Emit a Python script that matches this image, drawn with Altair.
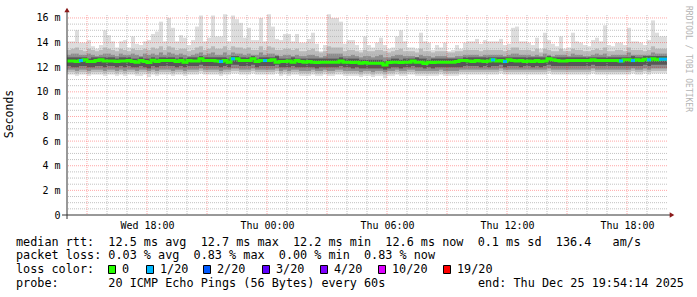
import altair as alt
import pandas as pd

# ---------------- data (12-minute bins, Wed 14:00 -> Thu 20:00) ----------------
median = [
    12.51, 12.51, 12.46, 12.54, 12.60, 12.46, 12.46, 12.54, 12.60, 12.51,
    12.51, 12.51, 12.46, 12.51, 12.51, 12.54, 12.46, 12.41, 12.54, 12.46,
    12.38, 12.57, 12.46, 12.54, 12.54, 12.54, 12.54, 12.46, 12.54, 12.41,
    12.54, 12.51, 12.51, 12.68, 12.54, 12.54, 12.54, 12.51,
    12.46, 12.54, 12.41, 12.68, 12.68, 12.54, 12.54, 12.54, 12.68, 12.46,
    12.54, 12.54, 12.54, 12.60, 12.41, 12.46, 12.46, 12.51, 12.41, 12.54,
    12.46, 12.41, 12.46, 12.41, 12.38, 12.41, 12.41, 12.41, 12.41, 12.41,
    12.51, 12.41, 12.41, 12.38, 12.41, 12.33, 12.38,
    12.33, 12.33, 12.33, 12.33, 12.19, 12.38, 12.41, 12.41, 12.38, 12.41,
    12.41, 12.51, 12.41, 12.41, 12.30, 12.41, 12.38, 12.41, 12.41, 12.41,
    12.41, 12.41, 12.46, 12.54, 12.54, 12.51, 12.46, 12.54, 12.51, 12.46,
    12.51, 12.60, 12.51, 12.54, 12.46, 12.60, 12.54, 12.51,
    12.54, 12.46, 12.51, 12.46, 12.54, 12.46, 12.51, 12.68, 12.60, 12.54,
    12.51, 12.51, 12.54, 12.54, 12.54, 12.54, 12.54, 12.54, 12.60, 12.54,
    12.54, 12.54, 12.54, 12.54, 12.54, 12.51, 12.60, 12.60, 12.54, 12.60,
    12.54, 12.65, 12.60, 12.68, 12.60, 12.65, 12.65,
]

ping_max = [
    14.1, 14.1, 15.0, 14.0, 14.0, 14.2, 13.7, 13.5, 13.8, 15.0,
    14.6, 14.1, 13.6, 14.1, 14.2, 13.6, 14.5, 13.9, 13.8, 14.1,
    14.2, 14.7, 14.9, 15.7, 14.1, 16.0, 15.2, 14.1, 14.6, 14.4,
    13.8, 14.2, 15.3, 16.2, 14.1, 14.4, 16.2, 14.5,
    14.5, 16.3, 14.1, 16.2, 15.9, 15.6, 14.4, 15.2, 14.2, 14.2,
    16.0, 14.1, 16.3, 15.3, 14.3, 14.2, 14.7, 14.7, 14.1, 14.7,
    14.0, 14.0, 14.3, 14.8, 13.9, 13.3, 13.8, 16.3, 16.0, 16.0,
    15.7, 13.9, 14.2, 14.2, 13.8, 13.4, 14.5,
    13.8, 13.6, 14.0, 14.4, 13.8, 13.5, 13.6, 14.5, 15.0, 14.1,
    13.6, 13.6, 13.5, 14.8, 14.1, 14.0, 13.4, 13.8, 13.6, 14.0,
    13.3, 13.4, 13.8, 13.5, 14.0, 14.1, 14.1, 14.3, 13.9, 14.2,
    14.1, 14.1, 14.1, 14.3, 13.8, 13.9, 15.2, 15.3,
    14.1, 14.1, 14.0, 13.8, 14.4, 13.5, 14.8, 14.2, 13.9, 13.7,
    14.5, 13.5, 13.6, 14.8, 14.1, 14.0, 13.8, 13.7, 14.2, 14.4,
    14.1, 15.4, 13.8, 13.7, 14.0, 14.0, 13.8, 15.2, 14.1, 14.1,
    14.0, 13.8, 14.2, 15.8, 14.8, 14.5, 14.5,
]

up_a = [
    13.4, 13.5, 13.6, 13.4, 13.3, 13.5, 13.4, 13.3, 13.4, 13.6, 13.5, 13.4, 13.3, 13.5, 13.4,
    13.3, 13.5, 13.4, 13.4, 13.5, 13.4, 13.6, 13.5, 13.7, 13.4, 13.7, 13.6, 13.4, 13.5, 13.5,
    13.3, 13.4, 13.6, 13.7, 13.4, 13.5, 13.7, 13.5, 13.5, 13.7, 13.4, 13.7, 13.6, 13.6, 13.5,
    13.6, 13.4, 13.4, 13.7, 13.4, 13.7, 13.6, 13.4, 13.4, 13.5, 13.5, 13.4, 13.5, 13.3, 13.3,
    13.4, 13.5, 13.3, 13.2, 13.3, 13.7, 13.6, 13.6, 13.6, 13.3, 13.4, 13.4, 13.3, 13.2, 13.4,
    13.3, 13.3, 13.4, 13.4, 13.3, 13.2, 13.3, 13.4, 13.5, 13.3, 13.3, 13.3, 13.2, 13.5, 13.3,
    13.3, 13.2, 13.3, 13.3, 13.3, 13.2, 13.2, 13.3, 13.3, 13.4, 13.4, 13.4, 13.4, 13.3, 13.4,
    13.4, 13.4, 13.4, 13.4, 13.3, 13.4, 13.6, 13.6, 13.4, 13.4, 13.4, 13.3, 13.5, 13.2, 13.5,
    13.4, 13.3, 13.3, 13.5, 13.3, 13.3, 13.5, 13.4, 13.4, 13.3, 13.3, 13.4, 13.5, 13.4, 13.6,
    13.3, 13.3, 13.4, 13.4, 13.3, 13.6, 13.4, 13.4, 13.4, 13.3, 13.4, 13.7, 13.5, 13.5, 13.5,
]

up_b = [
    13.0, 13.1, 13.1, 13.0, 13.0, 13.1, 13.0, 12.9, 13.0, 13.1, 13.1, 13.0, 12.9, 13.1, 13.0,
    13.0, 13.1, 13.0, 12.9, 13.1, 13.0, 13.1, 13.0, 13.2, 13.0, 13.2, 13.1, 13.0, 13.1, 13.0,
    12.9, 13.0, 13.1, 13.2, 13.0, 13.1, 13.2, 13.0, 13.0, 13.2, 13.0, 13.2, 13.1, 13.1, 13.0,
    13.1, 13.0, 13.0, 13.2, 13.0, 13.1, 13.1, 13.0, 12.9, 13.0, 13.0, 12.9, 13.0, 12.9, 12.9,
    13.0, 13.0, 12.9, 12.8, 12.9, 13.1, 13.1, 13.1, 13.1, 12.9, 12.9, 13.0, 12.9, 12.8, 12.9,
    12.9, 12.8, 12.9, 13.0, 12.8, 12.8, 12.9, 13.0, 13.0, 12.9, 12.9, 12.9, 12.8, 13.0, 12.9,
    12.9, 12.8, 12.9, 12.9, 12.9, 12.8, 12.8, 12.9, 12.9, 13.0, 13.0, 13.0, 13.0, 12.9, 13.0,
    13.0, 13.0, 13.0, 13.0, 12.9, 13.0, 13.1, 13.1, 13.0, 13.0, 13.0, 12.9, 13.0, 12.9, 13.1,
    13.0, 12.9, 13.0, 13.0, 13.0, 12.9, 13.1, 13.0, 13.0, 12.9, 12.9, 13.0, 13.1, 13.0, 13.1,
    12.9, 13.0, 13.0, 13.0, 13.0, 13.2, 13.0, 13.0, 13.0, 13.0, 13.0, 13.2, 13.1, 13.1, 13.1,
]

up_c = [
    12.8, 12.8, 12.8, 12.8, 12.8, 12.7, 12.8, 12.8, 12.8, 12.8, 12.8, 12.8, 12.7, 12.8, 12.8,
    12.8, 12.7, 12.7, 12.8, 12.7, 12.7, 12.8, 12.7, 12.8, 12.8, 12.8, 12.8, 12.7, 12.8, 12.7,
    12.8, 12.8, 12.8, 12.9, 12.8, 12.8, 12.8, 12.8, 12.8, 12.8, 12.7, 12.9, 12.9, 12.8, 12.8,
    12.8, 12.9, 12.7, 12.8, 12.8, 12.8, 12.8, 12.9, 12.7, 12.7, 12.7, 12.8, 12.7, 12.7, 12.7,
    12.7, 12.7, 12.7, 12.7, 12.7, 12.7, 12.7, 12.7, 12.8, 12.7, 12.7, 12.7, 12.7, 12.6, 12.6,
    12.6, 12.6, 12.6, 12.6, 12.5, 12.6, 12.7, 12.7, 12.6, 12.7, 12.7, 12.7, 12.8, 12.7, 12.7,
    12.6, 12.7, 12.7, 12.7, 12.7, 12.7, 12.7, 12.7, 12.7, 12.8, 12.8, 12.8, 12.8, 12.8, 12.8,
    12.8, 12.8, 12.8, 12.8, 12.8, 12.8, 12.8, 12.8, 12.8, 12.8, 12.8, 12.8, 12.8, 12.8, 12.8,
    12.9, 12.8, 12.8, 12.8, 12.8, 12.8, 12.8, 12.8, 12.8, 12.8, 12.8, 12.8, 12.8, 12.8, 12.8,
    12.8, 12.8, 12.8, 12.8, 12.8, 12.8, 12.9, 12.8, 12.8, 12.9, 12.9, 12.9, 12.9, 12.9, 12.9,
]

lo_c = [
    12.1, 12.0, 12.0, 12.1, 12.1, 12.0, 12.0, 12.1, 12.1, 12.0, 12.1, 12.1, 12.0, 12.1, 12.0,
    12.1, 12.0, 12.0, 12.1, 12.0, 11.9, 12.1, 12.0, 12.1, 12.1, 12.1, 12.1, 12.0, 12.1, 12.0,
    12.1, 12.1, 12.1, 12.2, 12.1, 12.1, 12.1, 12.1, 12.0, 12.1, 12.0, 12.2, 12.2, 12.1, 12.1,
    12.1, 12.2, 12.0, 12.1, 12.1, 12.1, 12.1, 12.2, 12.0, 12.0, 12.0, 12.1, 12.0, 12.0, 12.0,
    12.0, 12.0, 11.9, 12.0, 12.0, 12.0, 12.0, 12.0, 12.1, 12.0, 12.0, 11.9, 12.0, 11.9, 11.9,
    11.9, 11.9, 11.9, 11.9, 11.8, 11.9, 12.0, 12.0, 11.9, 12.0, 12.0, 12.1, 12.0, 12.0, 11.9,
    12.0, 11.9, 12.0, 12.0, 12.0, 12.0, 12.0, 12.0, 12.0, 12.1, 12.1, 12.1, 12.1, 12.0, 12.1,
    12.0, 12.1, 12.1, 12.2, 12.0, 12.1, 12.1, 12.1, 12.0, 12.1, 12.1, 12.0, 12.1, 12.0, 12.1,
    12.2, 12.1, 12.1, 12.1, 12.1, 12.1, 12.1, 12.1, 12.1, 12.1, 12.1, 12.2, 12.1, 12.1, 12.1,
    12.1, 12.1, 12.1, 12.1, 12.1, 12.1, 12.1, 12.1, 12.1, 12.2, 12.1, 12.2, 12.2, 12.2, 12.2,
]

lo_b = [
    11.8, 11.8, 11.7, 11.8, 11.8, 11.7, 11.8, 11.8, 11.8, 11.7, 11.8, 11.8, 11.7, 11.8, 11.7,
    11.8, 11.8, 11.7, 11.8, 11.8, 11.7, 11.8, 11.7, 11.8, 11.8, 11.8, 11.7, 11.8, 11.8, 11.7,
    11.8, 11.8, 11.8, 11.9, 11.8, 11.8, 11.8, 11.8, 11.7, 11.8, 11.8, 11.9, 11.9, 11.8, 11.8,
    11.8, 11.9, 11.8, 11.8, 11.8, 11.8, 11.8, 11.9, 11.7, 11.8, 11.7, 11.8, 11.8, 11.7, 11.7,
    11.7, 11.8, 11.7, 11.7, 11.8, 11.7, 11.7, 11.8, 11.8, 11.7, 11.7, 11.7, 11.7, 11.6, 11.7,
    11.7, 11.6, 11.7, 11.7, 11.6, 11.7, 11.7, 11.8, 11.7, 11.7, 11.8, 11.8, 11.7, 11.7, 11.7,
    11.7, 11.7, 11.7, 11.8, 11.7, 11.7, 11.7, 11.7, 11.8, 11.8, 11.8, 11.8, 11.8, 11.8, 11.8,
    11.8, 11.8, 11.8, 11.9, 11.8, 11.8, 11.8, 11.8, 11.8, 11.8, 11.8, 11.8, 11.8, 11.8, 11.8,
    11.9, 11.8, 11.8, 11.8, 11.8, 11.8, 11.8, 11.8, 11.8, 11.8, 11.8, 11.9, 11.8, 11.8, 11.8,
    11.8, 11.8, 11.8, 11.8, 11.8, 11.8, 11.9, 11.8, 11.8, 11.9, 11.8, 11.9, 11.9, 11.9, 11.9,
]

lo_a = [
    11.6, 11.6, 11.5, 11.6, 11.6, 11.5, 11.6, 11.6, 11.6, 11.5, 11.6, 11.6, 11.5, 11.6, 11.5,
    11.6, 11.6, 11.5, 11.6, 11.6, 11.5, 11.6, 11.5, 11.6, 11.6, 11.6, 11.5, 11.6, 11.6, 11.5,
    11.6, 11.6, 11.6, 11.7, 11.6, 11.6, 11.6, 11.6, 11.5, 11.6, 11.6, 11.7, 11.7, 11.6, 11.6,
    11.6, 11.7, 11.6, 11.6, 11.6, 11.6, 11.6, 11.7, 11.5, 11.6, 11.5, 11.6, 11.6, 11.5, 11.5,
    11.5, 11.6, 11.5, 11.5, 11.6, 11.5, 11.5, 11.6, 11.6, 11.5, 11.5, 11.5, 11.5, 11.4, 11.5,
    11.5, 11.4, 11.5, 11.5, 11.4, 11.5, 11.5, 11.6, 11.5, 11.5, 11.6, 11.6, 11.5, 11.5, 11.5,
    11.5, 11.5, 11.5, 11.6, 11.5, 11.5, 11.5, 11.5, 11.6, 11.6, 11.6, 11.6, 11.6, 11.6, 11.6,
    11.6, 11.6, 11.6, 11.7, 11.6, 11.6, 11.6, 11.6, 11.6, 11.6, 11.6, 11.6, 11.6, 11.6, 11.6,
    11.7, 11.6, 11.6, 11.6, 11.6, 11.6, 11.6, 11.6, 11.6, 11.6, 11.6, 11.7, 11.6, 11.6, 11.6,
    11.6, 11.6, 11.6, 11.6, 11.6, 11.6, 11.7, 11.6, 11.6, 11.7, 11.6, 11.7, 11.7, 11.7, 11.7,
]

ping_min = [
    11.4, 11.4, 11.3, 11.4, 11.4, 11.3, 11.4, 11.4, 11.4, 11.3, 11.4, 11.4, 11.3, 11.4, 11.3,
    11.4, 11.4, 11.3, 11.3, 11.4, 11.2, 11.4, 11.3, 11.4, 11.4, 11.4, 11.3, 11.4, 11.4, 11.3,
    11.4, 11.4, 11.4, 11.5, 11.4, 11.4, 11.4, 11.4, 11.3, 11.4, 11.4, 11.5, 11.5, 11.4, 11.4,
    11.4, 11.5, 11.4, 11.4, 11.4, 11.4, 11.4, 11.5, 11.3, 11.4, 11.3, 11.4, 11.4, 11.3, 11.3,
    11.3, 11.4, 11.3, 11.3, 11.4, 11.3, 11.3, 11.4, 11.4, 11.3, 11.3, 11.3, 11.3, 11.2, 11.3,
    11.3, 11.2, 11.3, 11.3, 11.1, 11.3, 11.3, 11.4, 11.3, 11.3, 11.4, 11.4, 11.3, 11.3, 11.3,
    11.3, 11.3, 11.3, 11.4, 11.3, 11.3, 11.3, 11.3, 11.4, 11.4, 11.4, 11.4, 11.4, 11.4, 11.4,
    11.4, 11.4, 11.4, 11.5, 11.4, 11.4, 11.4, 11.4, 11.4, 11.4, 11.4, 11.4, 11.4, 11.4, 11.4,
    11.5, 11.4, 11.4, 11.4, 11.4, 11.4, 11.4, 11.4, 11.4, 11.4, 11.4, 11.5, 11.4, 11.4, 11.4,
    11.4, 11.4, 11.4, 11.4, 11.4, 11.4, 11.5, 11.4, 11.4, 11.5, 11.4, 11.5, 11.5, 11.5, 11.5,
]

# bins with 1/20 packet loss
loss_bins = [3, 38, 41, 49, 106, 109, 138, 141, 145, 148, 149]

y_ticks = [0, 2, 4, 6, 8, 10, 12, 14, 16]
x_ticks = [18, 24, 30, 36, 42]
x_tick_labels = ["Wed 18:00", "Thu 00:00", "Thu 06:00", "Thu 12:00", "Thu 18:00"]

loss_labels = ["0", "1/20", "2/20", "3/20", "4/20", "10/20", "19/20"]
loss_colors = ["#26ff00", "#00b8ff", "#0059ff", "#5e00ff", "#7e00ff", "#dd00ff", "#ff0000"]

legend_line1 = "median rtt:  12.5 ms avg  12.7 ms max  12.2 ms min  12.6 ms now  0.1 ms sd  136.4   am/s"
legend_line2 = "packet loss: 0.03 % avg  0.83 % max  0.00 % min  0.83 % now"
legend_line3 = "loss color:"
legend_line4 = "probe:       20 ICMP Echo Pings (56 Bytes) every 60s"
legend_end = "end: Thu Dec 25 19:54:14 2025"
y_title = "Seconds"
watermark = "RRDTOOL / TOBI OETIKER"

# ---------------- layout / style ----------------
MONO = "DejaVu Sans Mono"
START_H = 14.0      # hours since Wed 00:00
SPAN_H = 30.0
STEP_H = 0.2        # 12 minutes
Y_TOP = 16.24
W, H = 600, 200

N = len(median)
df = pd.DataFrame({
    "t0": [START_H + STEP_H * i for i in range(N)],
    "t1": [START_H + STEP_H * (i + 1) for i in range(N)],
    "med": median, "pmax": ping_max, "pmin": ping_min,
    "up_a": up_a, "up_b": up_b, "up_c": up_c,
    "lo_a": lo_a, "lo_b": lo_b, "lo_c": lo_c,
})
df["up_a"] = df[["up_a", "pmax"]].min(axis=1)

line_df = pd.DataFrame({
    "t": list(df["t0"]) + [START_H + SPAN_H],
    "med": median + [median[-1]],
})
loss_df = df.iloc[loss_bins]

x_label_expr = " : ".join(
    f"datum.value == {v} ? '{lab}'" for v, lab in zip(x_ticks, x_tick_labels)
) + " : ''"

x_scale = alt.Scale(domain=[START_H, START_H + SPAN_H], nice=False, zero=False)
y_scale = alt.Scale(domain=[0, Y_TOP], nice=False, zero=False)
x_axis = alt.Axis(values=x_ticks, labelExpr=x_label_expr, domain=False, ticks=False,
                  grid=False, labelFont=MONO, labelFontSize=10, labelColor="#000",
                  labelPadding=5, title=None, labelOverlap=False, labelFlush=False)
y_axis = alt.Axis(values=y_ticks, labelExpr="datum.value == 0 ? '0' : datum.value + ' m'",
                  domain=False, ticks=False, grid=False, labelFont=MONO, labelFontSize=10,
                  labelColor="#000", labelPadding=7, title=None, labelOverlap=False)


def X(field):
    return alt.X(field, type="quantitative", scale=x_scale, axis=x_axis)


def Y(field):
    return alt.Y(field, type="quantitative", scale=y_scale, axis=y_axis)


def nb(s):
    return s.replace(" ", "\u00a0")


def one():
    return alt.Data(values=[{"k": 1}])


def text_layer(txt, x, y, size=11.8, color="#000", angle=0, align="left"):
    return alt.Chart(alt.Data(values=[{"t": nb(txt)}])).mark_text(
        align=align, baseline="middle", font=MONO, fontSize=size, color=color, angle=angle
    ).encode(x=alt.value(x), y=alt.value(y), text="t:N")


layers = []
base = alt.Chart(df)
for lo, hi, col in [("pmin", "pmax", "#dddddd"), ("lo_a", "up_a", "#bababa"),
                    ("lo_b", "up_b", "#8d8d8d"), ("lo_c", "up_c", "#575757")]:
    layers.append(base.mark_rect(color=col).encode(x=X("t0"), x2="t1", y=Y(lo), y2=hi))

# grid (drawn over the smoke, semi transparent)
hours = list(range(int(START_H), int(START_H + SPAN_H)))
minor_v = [h for h in hours if h % 3 and h > START_H]
major_v = [h for h in hours if h % 3 == 0]
minor_h = [i * 0.5 for i in range(1, 33) if i % 4]
major_h = [v for v in y_ticks if v > 0]
GRID_MINOR = dict(color="#a8a8a8", strokeDash=[1, 1], strokeWidth=1, opacity=0.7)
GRID_MAJOR = dict(color="#ff0000", strokeDash=[1, 1], strokeWidth=1, opacity=0.35)
layers.append(alt.Chart(pd.DataFrame({"h": minor_v})).mark_rule(**GRID_MINOR).encode(x=X("h")))
layers.append(alt.Chart(pd.DataFrame({"v": minor_h})).mark_rule(**GRID_MINOR).encode(y=Y("v")))
layers.append(alt.Chart(pd.DataFrame({"h": major_v})).mark_rule(**GRID_MAJOR).encode(x=X("h")))
layers.append(alt.Chart(pd.DataFrame({"v": major_h})).mark_rule(**GRID_MAJOR).encode(y=Y("v")))

# median line coloured by loss
layers.append(alt.Chart(line_df).mark_line(interpolate="step-after", strokeWidth=3,
                                           color=loss_colors[0]).encode(x=X("t"), y=Y("med")))
layers.append(alt.Chart(loss_df).mark_rule(strokeWidth=3, color=loss_colors[1]).encode(
    x=X("t0"), x2="t1", y=Y("med")))

# axis lines with arrows
AX = "#333333"
ARROW = "#8b1a1a"
layers.append(alt.Chart(one()).mark_rule(color=AX, strokeWidth=1).encode(
    x=alt.value(-5), x2=alt.value(W + 4), y=alt.value(H)))
layers.append(alt.Chart(one()).mark_rule(color=AX, strokeWidth=1).encode(
    x=alt.value(0), y=alt.value(-6), y2=alt.value(H + 4)))
layers.append(alt.Chart(one()).mark_point(shape="triangle-right", filled=True, size=28,
                                          color=ARROW, opacity=1).encode(
    x=alt.value(W + 5), y=alt.value(H)))
layers.append(alt.Chart(one()).mark_point(shape="triangle-up", filled=True, size=28,
                                          color=ARROW, opacity=1).encode(
    x=alt.value(0), y=alt.value(-5)))

# texts
LX = -51
layers.append(text_layer(y_title, -57, 99, size=11.5, angle=270, align="center"))
layers.append(text_layer(watermark, 621, 44, size=8, color="#b4b4b4", angle=90, align="center"))
layers.append(text_layer(legend_line1, LX, 226.7))
layers.append(text_layer(legend_line2, LX, 240))
layers.append(text_layer(legend_line3, LX, 254.3))
layers.append(text_layer(legend_line4, LX, 268.3))
layers.append(text_layer(legend_end, 411, 268.3))

swatch_x = [41, 79, 136, 195, 253, 311, 376]
for sx, col, lab in zip(swatch_x, loss_colors, loss_labels):
    layers.append(alt.Chart(one()).mark_rect(color=col, stroke="#000", strokeWidth=1).encode(
        x=alt.value(sx + 0.5), x2=alt.value(sx + 7.5), y=alt.value(250.5), y2=alt.value(258.5)))
    layers.append(text_layer(lab, sx + 14, 254.3))

chart = alt.layer(*layers).properties(
    width=W, height=H,
    padding={"left": 67, "top": 15, "right": 30, "bottom": 82},
    autosize=alt.AutoSizeParams(type="none"),
    background="white",
).configure_view(strokeWidth=0)

chart.save("out.html", embed_options={"renderer": "svg", "actions": False})
